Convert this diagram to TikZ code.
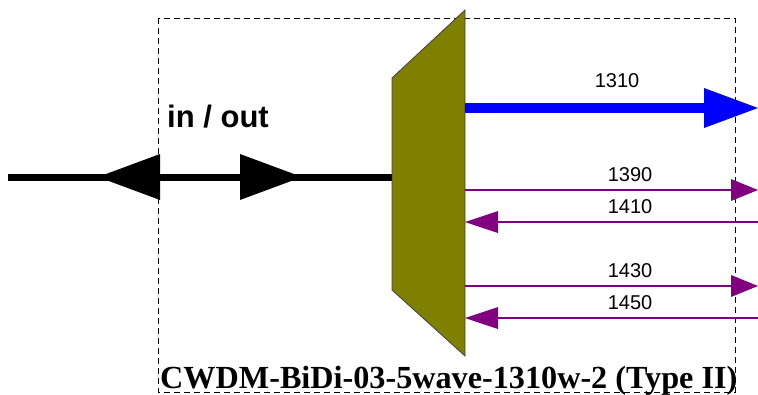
\documentclass[tikz,border=0pt]{standalone}
\usepackage{fontspec}
\setmainfont{Liberation Serif}
\setsansfont{Liberation Sans}
\usetikzlibrary{arrows.meta,calc}
\definecolor{muxolive}{RGB}{128,128,0}
\definecolor{chanpurple}{RGB}{128,0,128}

\begin{document}
\begin{tikzpicture}[x=1pt,y=-1pt]
      \tikzset{
        frame/.style={draw, dash pattern=on 6pt off 4pt, line width=0.8pt},
        mux/.style={draw=black!75, fill=muxolive, line width=0.8pt},
        trunk/.style={draw, line width=7pt},
        bighead/.style={draw, line width=7pt, -{Triangle[length=62pt,width=46pt,line width=0pt]}},
        blueline/.style={draw=blue, line width=10pt, -{Triangle[length=54pt,width=40pt,line width=0pt]}},
        chan/.style={draw=chanpurple, line width=1.5pt},
        chanout/.style={chan, -{Triangle[length=27pt,width=22pt,line width=0pt]}},
        chanin/.style={chan, {Triangle[length=33pt,width=22pt,line width=0pt]}-},
        lbl/.style={font=\sffamily\fontsize{20}{20}\selectfont, inner sep=0pt},
      }
      \useasboundingbox (0,0) rectangle (758,394);
      \draw [frame] (158,18) rectangle (735,392);

      \coordinate (port) at (8,177);
      \coordinate (mux-in) at (392,177);
      \coordinate (h1) at (160,177);
      \coordinate (h1tip) at (98,177);
      \coordinate (h2) at (240,177);
      \coordinate (h2tip) at (302,177);
      \draw [mux] (392,78) -- (465,10) -- (465,356) -- (392,290) -- cycle;

      \node [font=\sffamily\bfseries\fontsize{31}{31}\selectfont, anchor=base west, inner sep=0pt] (io) at (167,127) {in / out};

      \path [trunk] (port)--(mux-in);
      \path [bighead] (h1)--(h1tip);
      \path [bighead] (h2)--(h2tip);

      \coordinate (m-1310) at (465,108);
      \coordinate (e-1310) at (758,108);
      \path [blueline] (m-1310)--(e-1310);
      \node [lbl] (l-1310) at (617,81) {1310};

      \foreach \wl/\yy in {1390/190, 1430/286} {
        \coordinate (m-\wl) at (465,\yy);
        \coordinate (e-\wl) at (758,\yy);
        \path [chanout] (m-\wl)--(e-\wl);
        \node [lbl] (l-\wl) at (630,\yy-15.5) {\wl};
      }
      \foreach \wl/\yy in {1410/222, 1450/318} {
        \coordinate (m-\wl) at (465,\yy);
        \coordinate (e-\wl) at (758,\yy);
        \path [chanin] (m-\wl)--(e-\wl);
        \node [lbl] (l-\wl) at (630,\yy-15.5) {\wl};
      }

      \node [font=\rmfamily\bfseries\fontsize{32.2}{32.2}\selectfont, anchor=base west, inner sep=0pt] (title) at (160,388) {CWDM-BiDi-03-5wave-1310w-2 (Type II)};
\end{tikzpicture}
\end{document}
